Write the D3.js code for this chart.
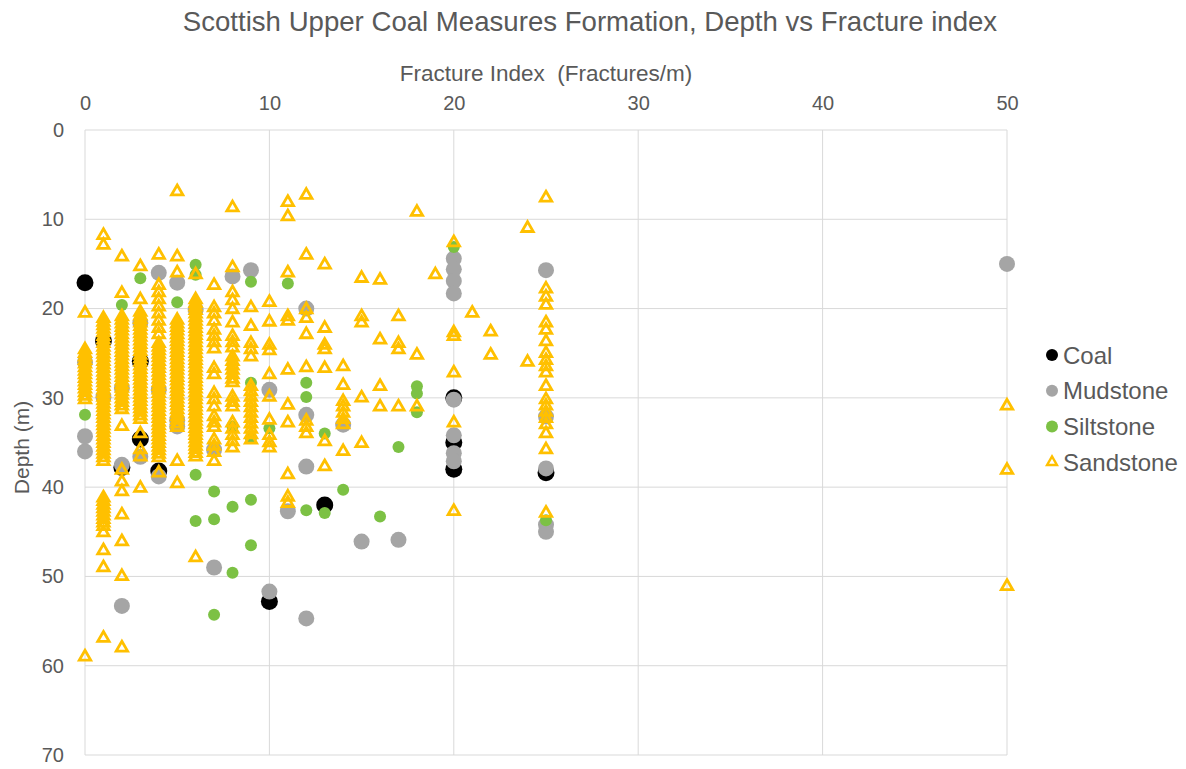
<!DOCTYPE html>
<html>
<head>
<meta charset="utf-8">
<script src="https://cdn.jsdelivr.net/npm/d3@7"></script>
<style>
  html, body { margin: 0; padding: 0; background: #fff; }
  svg { display: block; font-family: "Liberation Sans", Arial, sans-serif; }
</style>
</head>
<body>
<svg id="chart" width="1186" height="769"></svg>
<script>
// ---------- DATA ----------
const title = "Scottish Upper Coal Measures Formation, Depth vs Fracture index";
const xTitle = "Fracture Index  (Fractures/m)";
const yTitle = "Depth (m)";
const xTicks = [0, 10, 20, 30, 40, 50];
const yTicks = [0, 10, 20, 30, 40, 50, 60, 70];
const seriesNames = ["Coal", "Mudstone", "Siltstone", "Sandstone"];

// [fracture index, depth (m)]
const coal = [
  [0,17.1],[1,23.6],[3,25.9],[3,34.6],[4,38.2],[2,37.8],[10,52.8],[13,42.0],
  [20,30.0],[20,35.0],[20,38.0],[25,38.4]
];
const mudstone = [
  [0,26.0],[0,34.3],[0,36.0],[1,29.9],[2,28.9],[2,37.5],[2,53.3],[3,21.6],[3,36.6],
  [4,16.0],[4,29.1],[4,38.8],[5,17.1],[5,32.5],[5,33.2],[6,20.1],[7,35.8],[7,49.0],
  [8,16.4],[9,15.7],[10,29.1],[10,51.7],[11,42.7],[12,20.0],[12,31.9],[12,37.7],
  [12,54.7],[14,33.0],[15,46.1],[17,45.9],[20,14.4],[20,15.6],[20,16.9],[20,18.3],
  [20,30.2],[20,34.2],[20,36.2],[20,37.1],[25,15.7],[25,32.1],[25,37.9],[25,44.2],
  [25,45.0],[50,15.0]
];
const siltstone = [
  [0,31.9],[2,19.6],[3,16.6],[5,19.3],[6,15.1],[6,16.2],[6,38.6],[6,43.8],[7,40.5],
  [7,43.6],[7,54.3],[8,33.2],[8,42.2],[8,49.6],[9,17.0],[9,28.3],[9,34.5],[9,41.4],
  [9,46.5],[10,33.4],[11,17.2],[12,28.3],[12,29.9],[12,42.6],[13,34.0],[13,42.9],
  [14,40.3],[16,43.3],[17,35.5],[18,28.7],[18,29.5],[18,31.6],[20,13.1],[25,43.7]
];
const sandstone = [
  [0,20.5],[0,24.6],[0,25.0],[0,25.4],[0,25.8],[0,26.2],[0,26.6],[0,27.0],[0,27.4],[0,27.8],
  [0,28.2],[0,28.6],[0,29.0],[0,29.4],[0,29.8],[0,30.2],[0,59.0],
  [1,11.8],[1,12.9],[1,21.1],[1,21.5],[1,21.9],[1,22.3],[1,22.7],[1,23.1],[1,23.5],[1,23.9],
  [1,24.3],[1,24.7],[1,25.1],[1,25.5],[1,25.9],[1,26.3],[1,26.7],[1,27.1],[1,27.5],[1,27.9],
  [1,28.3],[1,28.7],[1,29.1],[1,29.5],[1,29.9],[1,30.3],[1,30.7],[1,31.1],[1,31.5],[1,31.9],
  [1,32.3],[1,32.7],[1,33.1],[1,33.5],[1,33.9],[1,34.3],[1,34.7],[1,35.1],[1,35.5],[1,35.9],
  [1,36.3],[1,36.7],[1,37.1],[1,41.2],[1,41.6],[1,42.0],[1,42.4],[1,42.8],[1,43.2],[1,43.6],
  [1,44.0],[1,44.4],[1,45.1],[1,47.1],[1,49.0],[1,56.9],
  [2,14.2],[2,18.3],[2,20.9],[2,21.3],[2,21.7],[2,22.1],[2,22.5],[2,22.9],[2,23.3],[2,23.7],
  [2,24.1],[2,24.5],[2,24.9],[2,25.3],[2,25.7],[2,26.1],[2,26.5],[2,26.9],[2,27.3],[2,27.7],
  [2,28.1],[2,28.5],[2,28.9],[2,29.3],[2,29.7],[2,30.1],[2,30.5],[2,30.9],[2,31.3],[2,33.2],
  [2,38.1],[2,39.4],[2,40.5],[2,43.1],[2,46.1],[2,50.0],[2,58.0],
  [3,15.3],[3,19.0],[3,20.4],[3,20.8],[3,21.2],[3,21.6],[3,22.0],[3,22.4],[3,22.8],[3,23.2],
  [3,23.6],[3,24.0],[3,24.4],[3,24.8],[3,25.2],[3,25.6],[3,26.0],[3,26.4],[3,26.8],[3,27.2],
  [3,27.6],[3,28.0],[3,28.4],[3,28.8],[3,29.2],[3,29.6],[3,30.0],[3,30.4],[3,30.8],[3,31.2],
  [3,31.6],[3,32.0],[3,32.4],[3,34.0],[3,35.8],[3,36.6],[3,40.1],
  [4,14.0],[4,17.4],[4,18.2],[4,19.0],[4,19.8],[4,20.6],[4,21.4],[4,22.2],[4,22.9],[4,23.9],
  [4,24.3],[4,24.7],[4,25.1],[4,25.5],[4,25.9],[4,26.3],[4,26.7],[4,27.1],[4,27.5],[4,27.9],
  [4,28.3],[4,28.7],[4,29.1],[4,29.5],[4,29.9],[4,30.3],[4,30.7],[4,31.1],[4,31.5],[4,31.9],
  [4,32.3],[4,32.7],[4,33.1],[4,33.5],[4,33.9],[4,34.3],[4,34.7],[4,35.1],[4,35.5],[4,35.9],
  [4,36.3],[4,36.7],[4,38.4],
  [5,6.9],[5,14.2],[5,16.0],[5,21.3],[5,21.7],[5,22.1],[5,22.5],[5,22.9],[5,23.3],[5,23.7],
  [5,24.1],[5,24.5],[5,24.9],[5,25.3],[5,25.7],[5,26.1],[5,26.5],[5,26.9],[5,27.3],[5,27.7],
  [5,28.1],[5,28.5],[5,28.9],[5,29.3],[5,29.7],[5,30.1],[5,30.5],[5,30.9],[5,31.3],[5,31.7],
  [5,32.1],[5,32.5],[5,32.9],[5,33.3],[5,37.1],[5,39.6],
  [6,16.2],[6,19.0],[6,19.4],[6,19.8],[6,20.2],[6,20.6],[6,21.0],[6,21.4],[6,21.8],[6,22.2],
  [6,22.6],[6,23.0],[6,23.4],[6,23.8],[6,24.2],[6,24.6],[6,25.0],[6,25.4],[6,25.8],[6,26.2],
  [6,26.6],[6,27.0],[6,27.4],[6,27.8],[6,28.2],[6,28.6],[6,29.0],[6,29.4],[6,29.8],[6,30.2],
  [6,30.6],[6,31.0],[6,31.4],[6,31.8],[6,32.2],[6,32.6],[6,33.0],[6,33.4],[6,33.8],[6,34.2],
  [6,34.6],[6,35.0],[6,35.4],[6,35.8],[6,36.2],[6,36.6],[6,47.9],
  [7,17.4],[7,19.9],[7,20.6],[7,21.4],[7,22.4],[7,23.1],[7,23.8],[7,24.5],[7,26.7],[7,27.4],
  [7,29.5],[7,30.2],[7,31.0],[7,32.1],[7,32.8],[7,33.3],[7,34.7],[7,35.4],[7,36.1],[7,37.1],
  [8,8.7],[8,15.4],[8,18.2],[8,19.1],[8,20.1],[8,21.6],[8,23.1],[8,23.8],[8,24.4],[8,25.4],
  [8,25.9],[8,26.4],[8,26.9],[8,27.4],[8,27.9],[8,28.3],[8,29.9],[8,30.5],[8,31.0],[8,32.8],
  [8,33.5],[8,34.2],[8,34.9],[8,35.6],
  [9,19.9],[9,22.0],[9,23.9],[9,24.6],[9,25.4],[9,28.7],[9,29.3],[9,29.9],[9,30.5],[9,31.1],
  [9,31.7],[9,32.3],[9,32.9],[9,33.5],[9,34.1],[9,34.7],
  [10,19.3],[10,21.5],[10,24.1],[10,24.7],[10,27.4],[10,29.9],[10,32.5],[10,34.2],[10,35.0],[10,35.6],
  [11,8.1],[11,9.7],[11,16.0],[11,20.9],[11,21.4],[11,26.9],[11,30.8],[11,32.8],[11,38.6],[11,41.1],[11,41.8],
  [12,7.3],[12,14.0],[12,20.1],[12,21.1],[12,22.9],[12,26.6],[12,32.6],[12,33.3],[12,34.0],
  [13,15.1],[13,22.2],[13,24.1],[13,24.6],[13,26.7],[13,34.9],[13,37.7],
  [14,26.5],[14,28.6],[14,30.4],[14,31.0],[14,31.7],[14,32.4],[14,33.0],[14,36.0],
  [15,16.6],[15,20.9],[15,21.6],[15,30.0],[15,35.1],
  [16,16.8],[16,23.5],[16,28.7],[16,31.0],
  [17,20.9],[17,23.9],[17,24.6],[17,31.0],
  [18,9.2],[18,25.2],[18,31.0],
  [19,16.2],
  [20,12.6],[20,22.7],[20,23.1],[20,27.2],[20,32.8],[20,42.7],
  [21,20.5],
  [22,22.6],[22,25.2],
  [24,11.0],[24,26.0],
  [25,7.6],[25,17.8],[25,18.7],[25,19.6],[25,21.6],[25,22.4],[25,23.7],[25,25.0],[25,25.8],
  [25,26.5],[25,27.2],[25,28.7],[25,30.2],[25,30.9],[25,31.6],[25,32.3],[25,33.0],[25,34.0],
  [25,35.8],[25,42.9],
  [50,30.9],[50,38.1],[50,51.1]
];

// ---------- STYLE ----------
const textColor = "#595959";
const gridColor = "#D9D9D9";
const colors = { Coal: "#000000", Mudstone: "#A5A5A5", Siltstone: "#7CC144", Sandstone: "#FFC000" };

const svg = d3.select("#chart");
const plot = { left: 85, right: 1007, top: 130, bottom: 755 };

const x = d3.scaleLinear().domain([0, 50]).range([plot.left, plot.right]);
const y = d3.scaleLinear().domain([0, 70]).range([plot.top, plot.bottom]);

// gridlines
const grid = svg.append("g");
grid.selectAll("line.v").data(xTicks).join("line")
  .attr("x1", d => x(d)).attr("x2", d => x(d))
  .attr("y1", plot.top).attr("y2", plot.bottom)
  .attr("stroke", gridColor).attr("stroke-width", 1);
grid.selectAll("line.h").data(yTicks).join("line")
  .attr("x1", plot.left).attr("x2", plot.right)
  .attr("y1", d => y(d)).attr("y2", d => y(d))
  .attr("stroke", gridColor).attr("stroke-width", 1);

// axes (labels only, Excel-like)
const xAxis = d3.axisTop(x).tickValues(xTicks).tickSize(0).tickPadding(20);
const gx = svg.append("g").attr("transform", `translate(0,${plot.top})`).call(xAxis);
gx.select(".domain").remove();
gx.selectAll("text").attr("fill", textColor).style("font-size", "20px")
  .style("font-family", '"Liberation Sans", Arial, sans-serif');

const yAxis = d3.axisLeft(y).tickValues(yTicks).tickSize(0).tickPadding(21);
const gy = svg.append("g").attr("transform", `translate(${plot.left},0)`).call(yAxis);
gy.select(".domain").remove();
gy.selectAll("text").attr("fill", textColor).style("font-size", "20px")
  .style("font-family", '"Liberation Sans", Arial, sans-serif');

// titles
svg.append("text").attr("x", 590).attr("y", 31).attr("text-anchor", "middle")
  .attr("fill", textColor).style("font-size", "27.6px").text(title);
svg.append("text").attr("x", (plot.left + plot.right) / 2).attr("y", 81).attr("text-anchor", "middle")
  .attr("fill", textColor).style("font-size", "22.5px").style("white-space", "pre")
  .attr("xml:space", "preserve").text(xTitle);
svg.append("text").attr("transform", `translate(29,${(plot.top + plot.bottom) / 2 + 5}) rotate(-90)`)
  .attr("text-anchor", "middle").attr("fill", textColor).style("font-size", "21px").text(yTitle);

// marks
const marks = svg.append("g");
const circleSeries = [
  { name: "Coal", data: coal, r: 8.5 },
  { name: "Mudstone", data: mudstone, r: 8 },
  { name: "Siltstone", data: siltstone, r: 6 }
];
circleSeries.forEach(s => {
  marks.append("g").selectAll("circle").data(s.data).join("circle")
    .attr("cx", d => x(d[0])).attr("cy", d => y(d[1])).attr("r", s.r)
    .attr("fill", colors[s.name]);
});
const tri = d3.symbol().type(d3.symbolTriangle).size(56);
marks.append("g").selectAll("path").data(sandstone).join("path")
  .attr("d", tri)
  .attr("transform", d => `translate(${x(d[0])},${y(d[1])})`)
  .attr("fill", "none").attr("stroke", colors.Sandstone).attr("stroke-width", 2.8)
  .attr("stroke-linejoin", "miter");

// legend
const legend = svg.append("g").attr("transform", "translate(1052,355)");
const items = legend.selectAll("g").data(seriesNames).join("g")
  .attr("transform", (d, i) => `translate(0,${i * 35.7})`);
items.each(function(d) {
  const g = d3.select(this);
  if (d === "Sandstone") {
    g.append("path").attr("d", d3.symbol().type(d3.symbolTriangle).size(42))
      .attr("fill", "none").attr("stroke", colors[d]).attr("stroke-width", 2.4);
  } else {
    g.append("circle").attr("r", 6).attr("fill", colors[d]);
  }
  g.append("text").attr("x", 11).attr("dy", "0.36em").attr("fill", textColor)
    .style("font-size", "24px").text(d);
});
</script>
</body>
</html>
